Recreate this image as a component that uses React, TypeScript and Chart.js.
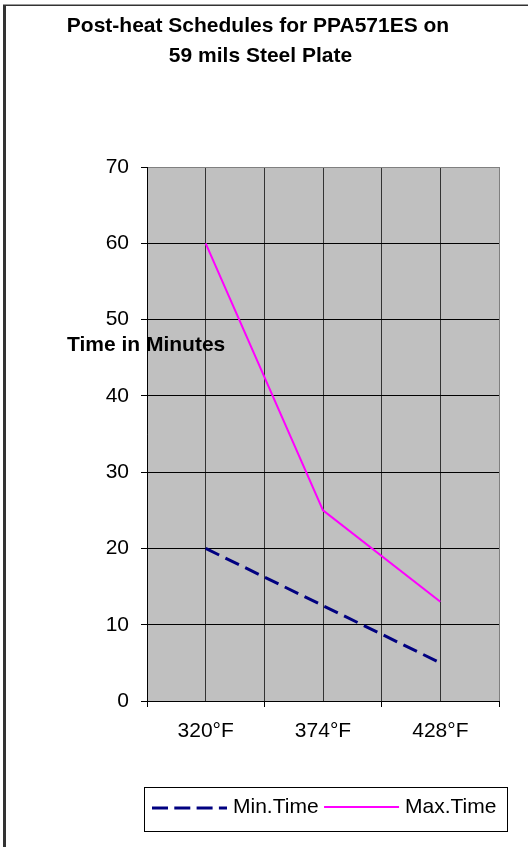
import React, { useEffect, useRef } from 'react';
import { Chart, registerables } from 'chart.js';

Chart.register(...registerables);

// ---- data ----
const TITLE_LINES = ['Post-heat Schedules for PPA571ES on', '59 mils Steel Plate'];
const Y_TITLE = 'Time in Minutes';
const CATEGORIES = ['320°F', '374°F', '428°F'];
const SERIES_NAMES = ['Min.Time', 'Max.Time'];
const MIN_TIME = [20, 12.5, 5];
const MAX_TIME = [60, 25, 13];
const Y_MIN = 0;
const Y_MAX = 70;
const Y_STEP = 10;

const FONT = '"Liberation Sans", Arial, Helvetica, sans-serif';
const PLOT_BG = '#C0C0C0';
const NAVY = '#000080';
const MAGENTA = '#FF00FF';

const isInt = (v: number) => Math.abs(v - Math.round(v)) < 1e-6;

const decorPlugin = {
  id: 'decor',
  beforeDraw(chart: any) {
    const { ctx, chartArea: a, width, height } = chart;
    ctx.save();
    ctx.fillStyle = '#ffffff';
    ctx.fillRect(0, 0, width, height);
    ctx.fillStyle = PLOT_BG;
    ctx.fillRect(a.left, a.top, a.right - a.left, a.bottom - a.top);
    ctx.restore();
  },
  afterDraw(chart: any) {
    const { ctx } = chart;
    ctx.save();
    // title
    ctx.fillStyle = '#000';
    ctx.font = `bold 21px ${FONT}`;
    ctx.textAlign = 'center';
    ctx.textBaseline = 'alphabetic';
    const titleCenters = [258, 260.5];
    const titleBaselines = [32, 62];
    TITLE_LINES.forEach((t, i) => ctx.fillText(t, titleCenters[i], titleBaselines[i]));

    // axis title (horizontal, over plot)
    ctx.textAlign = 'left';
    ctx.fillText(Y_TITLE, 67, 351);

    // legend
    const bx = 144.5, by = 787.5, bw = 363, bh = 44;
    ctx.fillStyle = '#fff';
    ctx.fillRect(bx, by, bw, bh);
    ctx.strokeStyle = '#000';
    ctx.lineWidth = 1;
    ctx.setLineDash([]);
    ctx.strokeRect(bx, by, bw, bh);
    ctx.font = `21px ${FONT}`;
    ctx.textBaseline = 'alphabetic';
    let x = 152;
    const sampleY = [808, 807];
    chart.data.datasets.forEach((ds: any, i: number) => {
      ctx.save();
      ctx.strokeStyle = ds.borderColor;
      ctx.lineWidth = ds.borderWidth;
      ctx.setLineDash(i === 0 ? [16, 6.3] : []);
      ctx.beginPath();
      ctx.moveTo(x, sampleY[i]);
      ctx.lineTo(x + 75, sampleY[i]);
      ctx.stroke();
      ctx.restore();
      x += 81;
      ctx.fillStyle = '#000';
      ctx.fillText(ds.label, x, 812.7);
      x += ctx.measureText(ds.label).width + 5.5;
    });

    // outer frame (left and top edges)
    ctx.fillStyle = '#333';
    ctx.fillRect(3, 5, 3, 842);
    ctx.fillRect(3, 4.5, 525, 1.5);
    ctx.restore();
  },
};

export default function App() {
  const ref = useRef<HTMLCanvasElement>(null);
  useEffect(() => {
    document.body.style.margin = '0';
    const chart = new Chart(ref.current as HTMLCanvasElement, {
      type: 'line',
      data: {
        datasets: [
          {
            label: SERIES_NAMES[0],
            data: MIN_TIME.map((v, i) => ({ x: i, y: v })),
            borderColor: NAVY,
            borderWidth: 3,
            borderDash: [15, 7],
            pointRadius: 0,
            tension: 0,
            fill: false,
          },
          {
            label: SERIES_NAMES[1],
            data: MAX_TIME.map((v, i) => ({ x: i, y: v })),
            borderColor: MAGENTA,
            borderWidth: 2,
            pointRadius: 0,
            tension: 0,
            fill: false,
          },
        ],
      },
      options: {
        responsive: false,
        animation: false,
        devicePixelRatio: 1,
        layout: { padding: { left: 0, right: 29, top: 167, bottom: 86 } },
        plugins: {
          legend: { display: false },
          tooltip: { enabled: false },
          title: { display: false },
        },
        scales: {
          x: {
            type: 'linear',
            min: -0.5,
            max: CATEGORIES.length - 0.5,
            afterFit: (s: any) => {
              s.height = 60;
            },
            border: { display: true, color: '#000', width: 1 },
            grid: {
              color: (c: any) => {
                const v = c.tick ? c.tick.value : 0;
                if (Math.abs(v - (CATEGORIES.length - 0.5)) < 1e-6) return '#808080';
                return '#333';
              },
              tickColor: (c: any) => {
                const v = c.tick ? c.tick.value : 0;
                return isInt(v) ? 'rgba(0,0,0,0)' : '#000';
              },
              tickLength: 6,
              lineWidth: 1,
            },
            ticks: {
              stepSize: 0.5,
              autoSkip: false,
              maxRotation: 0,
              minRotation: 0,
              padding: 12,
              color: '#000',
              font: { family: FONT, size: 21 },
              callback: (value: any) => {
                const v = Number(value);
                return isInt(v) ? CATEGORIES[Math.round(v)] ?? '' : '';
              },
            },
          },
          y: {
            type: 'linear',
            min: Y_MIN,
            max: Y_MAX,
            afterFit: (s: any) => {
              s.width = 147;
            },
            border: { display: true, color: '#000', width: 1 },
            grid: {
              color: (c: any) => (c.tick && c.tick.value === Y_MAX ? '#808080' : '#000'),
              tickColor: '#000',
              tickLength: 6,
              lineWidth: 1,
            },
            ticks: {
              stepSize: Y_STEP,
              padding: 12,
              color: '#000',
              font: { family: FONT, size: 21 },
            },
          },
        },
      },
      plugins: [decorPlugin],
    } as any);
    return () => chart.destroy();
  }, []);
  return (
    <div style={{ width: 528, height: 847 }}>
      <canvas ref={ref} width={528} height={847} style={{ display: 'block' }} />
    </div>
  );
}
